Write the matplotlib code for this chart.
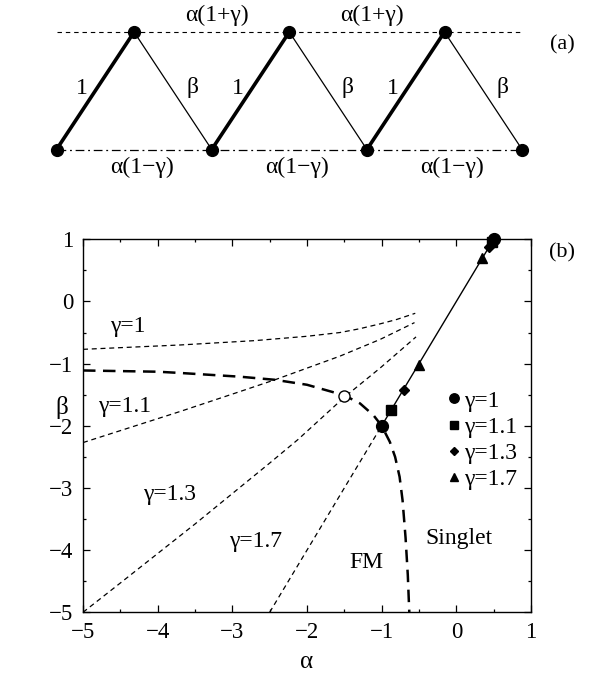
import matplotlib
matplotlib.use("Agg")
import matplotlib.pyplot as plt

plt.rcParams['font.family'] = ['Liberation Serif', 'DejaVu Serif']

# ---- data ----
# FM / singlet boundary (thick dashed)
alpha_fm = [-5.0, -4.0, -3.7, -2.9, -2.43, -2.0, -1.5, -1.29, -1.11, -1.0,
            -0.89, -0.82, -0.76, -0.72, -0.68, -0.65, -0.63]
beta_fm = [-1.11, -1.13, -1.15, -1.21, -1.26, -1.34, -1.51, -1.64, -1.83, -2.0,
           -2.26, -2.5, -2.82, -3.2, -3.8, -4.4, -5.0]

# thin dashed lines, one per gamma
alpha_g10 = [-5.0, -3.7, -2.7, -2.0, -1.56, -1.3, -1.02, -0.8, -0.55]
beta_g10 = [-0.77, -0.70, -0.63, -0.56, -0.50, -0.44, -0.36, -0.29, -0.19]
alpha_g11 = [-5.0, -3.7, -2.9, -2.43, -1.56, -1.02, -0.56]
beta_g11 = [-2.27, -1.77, -1.45, -1.26, -0.88, -0.61, -0.34]
alpha_g13 = [-5.0, -4.48, -3.5, -2.5, -2.12, -1.5, -1.02, -0.54]
beta_g13 = [-5.0, -4.51, -3.58, -2.6, -2.22, -1.54, -1.07, -0.57]
alpha_g17 = [-2.5, -1.0]
beta_g17 = [-5.0, -2.0]

# solid line through the symbols
alpha_line = [-1.0, 0.5]
beta_line = [-2.0, 1.0]

# symbols: lower and upper end points for each gamma
gammas = ['1', '1.1', '1.3', '1.7']
markers = ['o', 's', 'D', '^']
msizes = [8.5, 6.5, 5.2, 7.5]
alpha_lo = [-1.0, -0.875, -0.70, -0.50]
beta_lo = [-2.0, -1.75, -1.42, -1.03]
alpha_hi = [0.50, 0.475, 0.435, 0.35]
beta_hi = [1.0, 0.95, 0.87, 0.70]

# open circle
alpha_open = [-1.5]
beta_open = [-1.52]

# region labels
label_text = ['γ=1', 'γ=1.1', 'γ=1.3', 'γ=1.7', 'FM', 'Singlet']
label_alpha = [-4.40, -4.44, -3.84, -2.69, -1.21, 0.04]
label_beta = [-0.40, -1.69, -3.11, -3.86, -4.20, -3.81]

# ---- figure ----
W, H = 592, 679
fig = plt.figure(figsize=(W / 100, H / 100), dpi=100)

# panel (a): zigzag ladder, drawn in pixel coordinates
axa = fig.add_axes([0, 0, 1, 1])
axa.set_xlim(0, W)
axa.set_ylim(H, 0)
axa.axis('off')

n_sites = 7
x0, dx = 56.5, 77.6
y_top, y_bot = 32, 149.5
xs = [x0 + i * dx for i in range(n_sites)]
ys = [y_bot if i % 2 == 0 else y_top for i in range(n_sites)]

axa.plot([xs[0], xs[-1]], [y_top, y_top], color='black', lw=0.8,
         dashes=(4, 3.5))
axa.plot([xs[0], xs[-1]], [y_bot, y_bot], color='black', lw=0.9,
         dashes=(7, 3, 1.5, 3))
for i in range(n_sites - 1):
    if i % 2 == 0:
        axa.plot(xs[i:i + 2], ys[i:i + 2], color='black', lw=2.6,
                 solid_capstyle='round')
        axa.text((xs[i] + xs[i + 1]) / 2 - 13, 88, '1', fontsize=17,
                 ha='center', va='center')
    else:
        axa.plot(xs[i:i + 2], ys[i:i + 2], color='black', lw=0.9)
        axa.text((xs[i] + xs[i + 1]) / 2 + 19.5, 88, 'β', fontsize=17,
                 ha='center', va='center')
axa.plot(xs, ys, 'o', color='black', ms=8.5, ls='none')
for i in range(1, n_sites - 2, 2):
    axa.text((xs[i] + xs[i + 2]) / 2 + 5, 15, 'α(1+γ)',
             fontsize=17, ha='center', va='center')
for i in range(0, n_sites - 2, 2):
    axa.text((xs[i] + xs[i + 2]) / 2 + 8, 167, 'α(1\u2212γ)',
             fontsize=17, ha='center', va='center')
axa.text(562, 45, '(a)', fontsize=16, ha='center', va='center')
axa.text(562, 253, '(b)', fontsize=16, ha='center', va='center')

# panel (b): phase diagram
left, right, top, bottom = 83, 531, 239.3, 612.3
ax = fig.add_axes([left / W, 1 - bottom / H, (right - left) / W, (bottom - top) / H])
ax.set_xlim(-5, 1)
ax.set_ylim(-5, 1)

ax.plot(alpha_fm, beta_fm, color='black', lw=1.8, dashes=(5, 3))
for a, b in [(alpha_g10, beta_g10), (alpha_g11, beta_g11),
             (alpha_g13, beta_g13), (alpha_g17, beta_g17)]:
    ax.plot(a, b, color='black', lw=0.9, dashes=(4, 3))
ax.plot(alpha_line, beta_line, color='black', lw=1.0)

for k in range(len(gammas)):
    ax.plot([alpha_lo[k], alpha_hi[k]], [beta_lo[k], beta_hi[k]], ls='none',
            marker=markers[k], ms=msizes[k], color='black',
            label='γ=' + gammas[k], clip_on=False, zorder=5)
ax.plot(alpha_open, beta_open, ls='none', marker='o', ms=8, mfc='white',
        mec='black', mew=1.0, zorder=5)

for t, a, b in zip(label_text, label_alpha, label_beta):
    ax.text(a, b, t, fontsize=17, ha='center', va='center')

ax.legend(loc='upper left', bbox_to_anchor=(0.814, 0.596), frameon=False,
          fontsize=17, handlelength=0.5, handletextpad=0.2, labelspacing=0.2,
          borderpad=0, borderaxespad=0, numpoints=1, markerscale=0.8)

ax.set_xticks(range(-5, 2))
ax.set_yticks(range(-5, 2))
ax.set_xticks([v + 0.5 for v in range(-5, 1)], minor=True)
ax.set_yticks([v + 0.5 for v in range(-5, 1)], minor=True)
ax.tick_params(which='both', direction='in', top=True, right=True,
               labelsize=16.5, width=0.9)
ax.tick_params(which='major', length=5, pad=7)
ax.tick_params(which='minor', length=2.5)
for s in ax.spines.values():
    s.set_linewidth(1.0)

ax.set_xlabel('α', fontsize=18, va='center')
ax.set_ylabel('β', fontsize=18, rotation=0, va='center', ha='center')
ax.xaxis.set_label_coords(0.498, -0.133)
ax.yaxis.set_label_coords(-0.047, 0.548)

fig.savefig('out.png', dpi=100)
